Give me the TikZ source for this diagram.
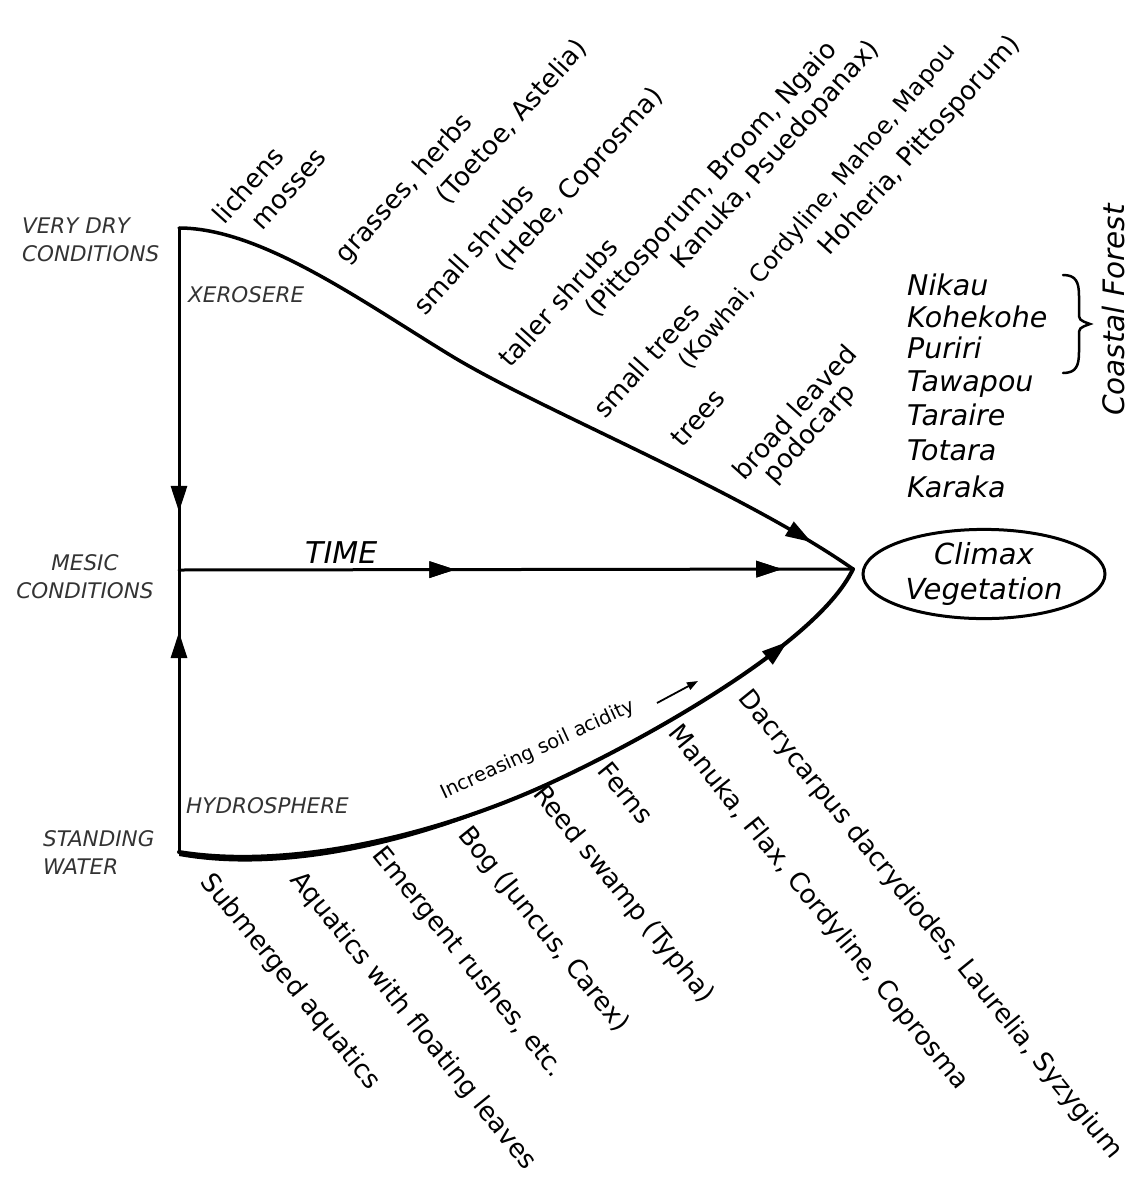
\documentclass[tikz,border=0pt]{standalone}
\usepackage{fontspec}
\setmainfont{DejaVu Sans}
\usetikzlibrary{arrows.meta,decorations.markings,shapes.geometric}
\begin{document}
\begin{tikzpicture}[x=1pt,y=-1pt,
  lab/.style={font=\fontsize{26}{30}\selectfont, inner sep=0pt},
  toplab/.style={lab, rotate=48},
  botlab/.style={lab, rotate=-51},
  cond/.style={font=\itshape\fontsize{21.5}{28}\selectfont, inner sep=0pt, text=black!80},
  species/.style={font=\itshape\fontsize{28.5}{33}\selectfont, inner sep=0pt, anchor=base west},
  mainline/.style={line width=3pt, line cap=round, line join=round},
  tipmark/.style={postaction={decorate}, decoration={markings, mark=at position #1 with {\arrow{Triangle[length=26pt,width=16pt]}}}},
]
\useasboundingbox (0,0) rectangle (1135,1178);

% key points
\coordinate (dry) at (179,228);
\coordinate (mesic) at (179,570);
\coordinate (wet) at (179,852);
\coordinate (climaxpt) at (853,569);

% vertical lines with arrows
\draw[mainline, tipmark=0.83] (dry) -- (mesic);
\draw[mainline, tipmark=0.78] (wet) -- (mesic);

% time line
\draw[mainline, tipmark=0.41, tipmark=0.895] (mesic) -- (climaxpt);

% xerosere curve
\draw[mainline, line width=3.5pt, tipmark=0.935] (dry) .. controls (260,228) and (360,300) .. (450,355)
  .. controls (540,410) and (740,490) .. (climaxpt);

% hydrosere curve
\draw[mainline, line width=4pt, tipmark=0.87] (wet) .. controls (290,870) and (430,835) .. (530,792)
  .. controls (610,758) and (815,650) .. (climaxpt);
\coordinate (hyA) at (530,792);
\coordinate (wetB) at (179,856);
\fill (wet) .. controls (290,870) and (430,835) .. (hyA) .. controls (430,839) and (290,876) .. (wetB) -- cycle;

% climax
\node[draw, ellipse, line width=3pt, minimum width=242, minimum height=88, inner sep=0pt,
  align=center, font=\itshape\fontsize{29}{35}\selectfont] (climax) at (984,574) {Climax\\Vegetation};

% side labels
\node[cond, anchor=north west, align=left] (vdry) at (22,218) {VERY DRY\\CONDITIONS};
\node[cond, anchor=north, align=center] (mes) at (85,554) {MESIC\\CONDITIONS};
\node[cond, anchor=north west, align=left] (stw) at (43,830) {STANDING\\WATER};
\node[cond, anchor=base west] (xero) at (188,302) {XEROSERE};
\node[cond, anchor=base west] (hydro) at (186,813) {HYDROSPHERE};
\node[font=\itshape\fontsize{30}{34}\selectfont, inner sep=0pt, anchor=base west] (time) at (305,563) {TIME};

% soil acidity
\node[font=\fontsize{19.5}{22}\selectfont, inner sep=0pt, rotate=24.8] (acid) at (538,750) {Increasing soil acidity};
\coordinate (acA) at (657,703);
\coordinate (acB) at (698,681);
\draw[line width=1.8pt, -{Triangle[length=11pt,width=8pt]}] (acA) -- (acB);

% top labels
\node[toplab] (t1) at (248,185) {lichens};
\node[toplab] (t2) at (290,190) {mosses};
\node[toplab] (t3) at (405,189) {grasses, herbs};
\node[toplab] (t4) at (512,122) {(Toetoe, Astelia)};
\node[toplab] (t5) at (473,249) {small shrubs};
\node[toplab] (t6) at (580,180) {(Hebe, Coprosma)};
\node[toplab] (t7) at (558,302) {taller shrubs};
\node[toplab] (t8) at (712,180) {(Pittosporum, Broom, Ngaio};
\node[toplab] (t9) at (776,155) {Kanuka, Psuedopanax)};
\node[toplab] (t10) at (646,360) {small trees};
\node[toplab, rotate=2, font=\fontsize{24}{28}\selectfont] (t11) at (818,207) {(Kowhai, Cordyline, Mahoe, Mapou};
\node[toplab] (t12) at (920,146) {Hoheria, Pittosporum)};
\node[toplab] (t13) at (698,418) {trees};
\node[toplab] (t14) at (794,412) {broad leaved};
\node[toplab] (t15) at (810,434) {podocarp};

% bottom labels
\node[botlab] (b1) at (290,982) {Submerged aquatics};
\node[botlab] (b2) at (413,1021) {Aquatics with floating leaves};
\node[botlab] (b3) at (468,963) {Emergent rushes, etc.};
\node[botlab] (b4) at (543,930) {Bog (Juncus, Carex)};
\node[botlab] (b5) at (623,895) {Reed swamp (Typha)};
\node[botlab] (b6) at (626,793) {Ferns};
\node[botlab] (b7) at (818,908) {Manuka, Flax, Cordyline, Coprosma};
\node[botlab] (b8) at (930,925) {Dacrycarpus dacrydiodes, Laurelia, Syzygium};

% species list
\node[species] (s1) at (907,295) {Nikau};
\node[species] (s2) at (907,327) {Kohekohe};
\node[species] (s3) at (907,358) {Puriri};
\node[species] (s4) at (907,391) {Tawapou};
\node[species] (s5) at (907,425) {Taraire};
\node[species] (s6) at (907,460) {Totara};
\node[species] (s7) at (907,497) {Karaka};

% brace
\coordinate (brT) at (1063,275);
\coordinate (brB) at (1063,373);
\coordinate (brTip) at (1090,324);
\draw[line width=2.5pt, line cap=round] (brT) .. controls (1076,275) and (1079,282) .. (1079,296) -- (1079,312)
  .. controls (1079,320) .. (brTip) .. controls (1079,328) .. (1079,336) -- (1079,352)
  .. controls (1079,366) and (1076,373) .. (brB);
\node[font=\itshape\fontsize{29.5}{33}\selectfont, inner sep=0pt, rotate=90] (coast) at (1113,310) {Coastal Forest};

\end{tikzpicture}
\end{document}
